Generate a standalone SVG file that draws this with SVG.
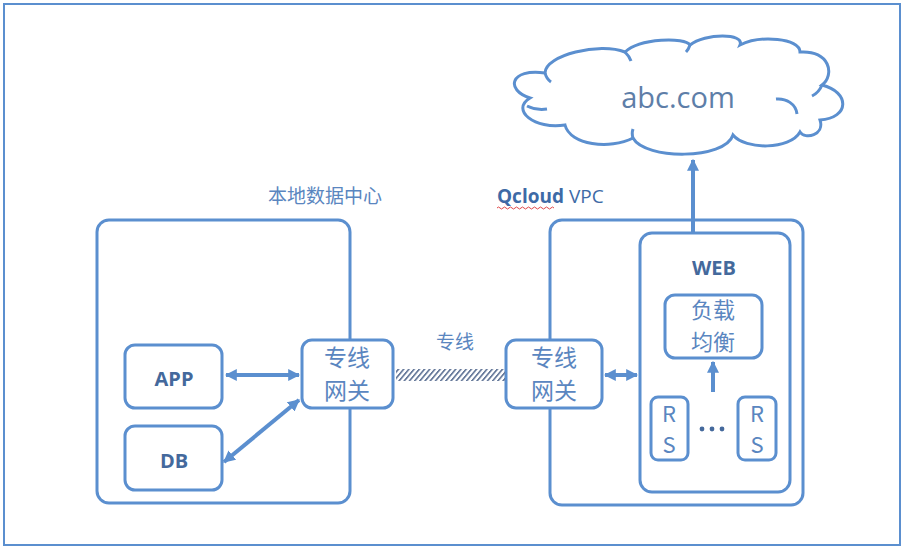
<svg xmlns="http://www.w3.org/2000/svg" width="905" height="549" viewBox="0 0 905 549">
<defs>
<style>
.box{fill:#fff;stroke:#5b8fcf;stroke-width:3}
.ln{stroke:#5b8fcf;stroke-width:4;fill:none}
.t{font-family:"Noto Sans CJK SC","Noto Sans",sans-serif;fill:#5a86c0}
.b{font-family:"Open Sans","Noto Sans",sans-serif;font-weight:bold;fill:#44699c}
</style>
<marker id="ah" viewBox="0 0 10 10" refX="9" refY="5" markerWidth="12" markerHeight="12" markerUnits="userSpaceOnUse" orient="auto-start-reverse">
<path d="M0,0 L10,5 L0,10 Z" fill="#5b8fcf"/>
</marker>
<pattern id="hatch" width="5.2" height="12" patternUnits="userSpaceOnUse" patternTransform="skewX(-40)">
<rect x="0" y="0" width="2.2" height="12" fill="#66799a"/>
</pattern>
</defs>
<rect x="0" y="0" width="905" height="549" fill="#fff"/>
<rect x="4" y="4" width="896" height="541" fill="none" stroke="#5b8fcf" stroke-width="2"/>

<g id="cloud">
<path d="M545,73 C545,55 600,42 625,52 C640,38 685,37 690,45 C705,33 745,33 740,45 C760,35 800,38 800,52 C830,50 835,75 822,85 C850,92 850,118 820,120 C825,135 805,140 800,132 C790,150 745,150 733,135 C725,160 645,160 633,138 C610,150 570,145 565,125 C535,130 510,110 530,98 C505,90 510,68 545,73 Z" fill="#fff" stroke="#5b8fcf" stroke-width="3"/>
<path d="M527,106 C533,109 540,110 547,109 M776,99 C786,98 796,104 797,114 M625,52 C628,55 630,58 631,61 M690,45 C689,48 688,50 686,52 M545,73 C546,77 548,80 551,82 M822,85 C820,90 816,94 812,96 M633,138 C632,135 632,132 633,129" fill="none" stroke="#5b8fcf" stroke-width="3"/>
<text x="678" y="108" text-anchor="middle" font-family="Open Sans,Noto Sans,sans-serif" font-size="29" fill="#5e7ea8">abc.com</text>
</g>

<text class="t" x="268" y="203" font-size="19">本地数据中心</text>
<text x="497" y="203" font-family="Open Sans,Noto Sans,sans-serif" font-size="19" fill="#3e6aa6"><tspan font-weight="bold">Qcloud</tspan> VPC</text>
<path d="M497,208 q1.5,-2 3,0 t3,0 t3,0 t3,0 t3,0 t3,0 t3,0 t3,0 t3,0 t3,0 t3,0 t3,0 t3,0 t3,0 t3,0 t3,0 t3,0 t3,0 t3,0" fill="none" stroke="#e04848" stroke-width="1"/>

<g id="dc">
<rect class="box" x="97" y="220" width="253" height="283" rx="12"/>
</g>
<g id="vpc">
<rect class="box" x="550" y="220" width="253" height="285" rx="12"/>
</g>
<g id="app">
<rect class="box" x="125" y="345" width="97" height="63" rx="10"/>
<text class="b" x="174" y="386" text-anchor="middle" font-size="20">APP</text>
</g>
<g id="db">
<rect class="box" x="125" y="426" width="97" height="64" rx="10"/>
<text class="b" x="174" y="468" text-anchor="middle" font-size="20">DB</text>
</g>
<g id="gw1">
<rect class="box" x="302" y="340" width="91" height="68" rx="10"/>
<text class="t" x="347" y="366" text-anchor="middle" font-size="23">专线</text>
<text class="t" x="347" y="399" text-anchor="middle" font-size="23">网关</text>
</g>
<g id="gw2">
<rect class="box" x="506" y="340" width="96" height="68" rx="10"/>
<text class="t" x="554" y="366" text-anchor="middle" font-size="23">专线</text>
<text class="t" x="554" y="399" text-anchor="middle" font-size="23">网关</text>
</g>
<g id="web">
<rect class="box" x="640" y="233" width="150" height="259" rx="12"/>
<text class="b" x="714" y="275" text-anchor="middle" font-size="20">WEB</text>
</g>
<g id="lb">
<rect class="box" x="665" y="295" width="97" height="63" rx="10"/>
<text class="t" x="713" y="318" text-anchor="middle" font-size="22">负载</text>
<text class="t" x="713" y="350" text-anchor="middle" font-size="22">均衡</text>
</g>
<g id="rs1">
<rect class="box" x="651" y="397" width="37" height="63" rx="7"/>
<text class="t" x="669" y="422" text-anchor="middle" font-size="22">R</text>
<text class="t" x="669" y="453" text-anchor="middle" font-size="22">S</text>
</g>
<g id="rs2">
<rect class="box" x="738" y="397" width="38" height="63" rx="7"/>
<text class="t" x="757" y="422" text-anchor="middle" font-size="22">R</text>
<text class="t" x="757" y="453" text-anchor="middle" font-size="22">S</text>
</g>
<g id="dots" fill="#44699c">
<circle cx="702" cy="429" r="2.4"/>
<circle cx="712" cy="429" r="2.4"/>
<circle cx="722" cy="429" r="2.4"/>
</g>

<g id="connectors">
<line class="ln" x1="226" y1="375" x2="299" y2="375" marker-start="url(#ah)" marker-end="url(#ah)"/>
<line class="ln" x1="224" y1="462" x2="299" y2="400" marker-start="url(#ah)" marker-end="url(#ah)"/>
<line class="ln" x1="605" y1="375" x2="637" y2="375" marker-start="url(#ah)" marker-end="url(#ah)"/>
<line class="ln" x1="713" y1="392" x2="713" y2="362" marker-end="url(#ah)"/>
<line class="ln" x1="693" y1="233" x2="693" y2="160" marker-end="url(#ah)"/>
<rect x="396" y="369" width="109" height="12" fill="url(#hatch)"/>
<text class="t" x="455" y="349" text-anchor="middle" font-size="19">专线</text>
</g>
</svg>
